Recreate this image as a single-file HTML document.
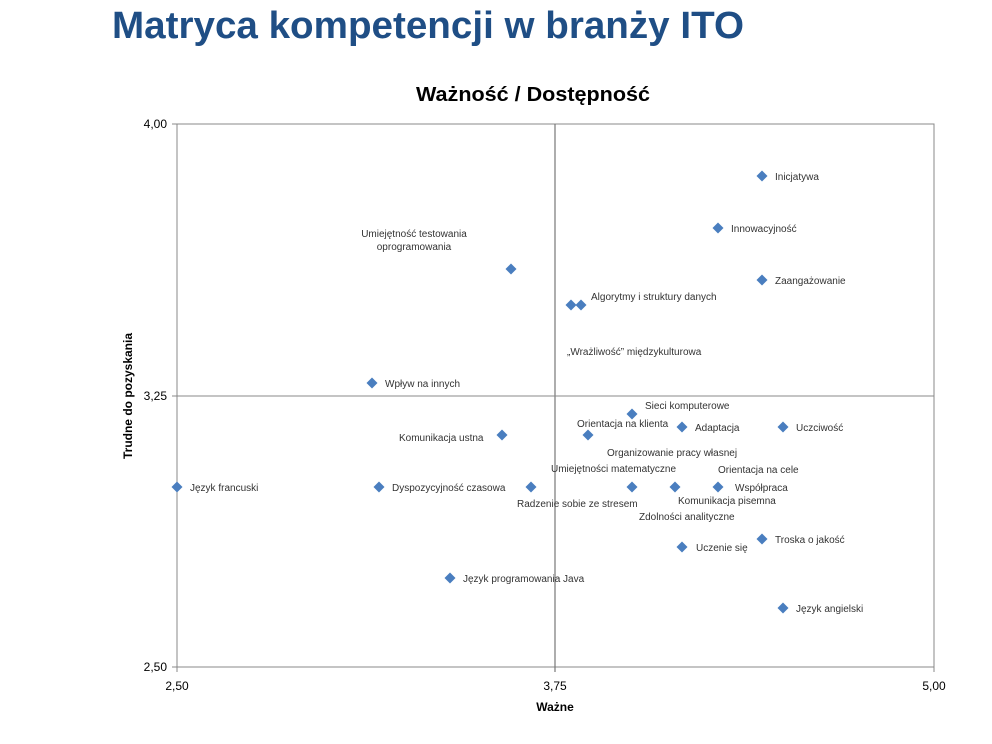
<!DOCTYPE html>
<html><head><meta charset="utf-8"><style>body{margin:0;background:#fff;}svg{display:block}</style></head><body>
<svg width="992" height="744" xmlns="http://www.w3.org/2000/svg" font-family="Liberation Sans, DejaVu Sans, sans-serif">
<text x="112" y="38" font-size="38" font-weight="bold" fill="#1f4e85" textLength="632" lengthAdjust="spacingAndGlyphs">Matryca kompetencji w branży ITO</text>
<text x="533" y="101" font-size="20" font-weight="bold" text-anchor="middle" fill="#000" textLength="234" lengthAdjust="spacingAndGlyphs">Ważność / Dostępność</text>
<rect x="177" y="124" width="757" height="543" fill="none" stroke="#888" stroke-width="1"/>
<line x1="555" y1="124" x2="555" y2="672" stroke="#777" stroke-width="1.2"/>
<line x1="172" y1="396" x2="934" y2="396" stroke="#888" stroke-width="1"/>
<line x1="172" y1="124" x2="177" y2="124" stroke="#888"/>
<line x1="172" y1="667" x2="177" y2="667" stroke="#888"/>
<line x1="177" y1="667" x2="177" y2="672" stroke="#888"/>
<line x1="934" y1="667" x2="934" y2="672" stroke="#888"/>
<g font-size="12" fill="#000">
<text x="167" y="128" text-anchor="end">4,00</text>
<text x="167" y="400" text-anchor="end">3,25</text>
<text x="167" y="671" text-anchor="end">2,50</text>
<text x="177" y="690" text-anchor="middle">2,50</text>
<text x="555" y="690" text-anchor="middle">3,75</text>
<text x="934" y="690" text-anchor="middle">5,00</text>
</g>
<text x="555" y="711" font-size="12" font-weight="bold" text-anchor="middle">Ważne</text>
<text transform="translate(132,396) rotate(-90)" font-size="12" font-weight="bold" text-anchor="middle">Trudne do pozyskania</text>
<g fill="#4a7ebf">
<path d="M0,-5.5L5.5,0L0,5.5L-5.5,0Z" transform="translate(762,176)"/>
<path d="M0,-5.5L5.5,0L0,5.5L-5.5,0Z" transform="translate(718,228)"/>
<path d="M0,-5.5L5.5,0L0,5.5L-5.5,0Z" transform="translate(762,280)"/>
<path d="M0,-5.5L5.5,0L0,5.5L-5.5,0Z" transform="translate(511,269)"/>
<path d="M0,-5.5L5.5,0L0,5.5L-5.5,0Z" transform="translate(571,305)"/>
<path d="M0,-5.5L5.5,0L0,5.5L-5.5,0Z" transform="translate(581,305)"/>
<path d="M0,-5.5L5.5,0L0,5.5L-5.5,0Z" transform="translate(372,383)"/>
<path d="M0,-5.5L5.5,0L0,5.5L-5.5,0Z" transform="translate(632,414)"/>
<path d="M0,-5.5L5.5,0L0,5.5L-5.5,0Z" transform="translate(588,435)"/>
<path d="M0,-5.5L5.5,0L0,5.5L-5.5,0Z" transform="translate(682,427)"/>
<path d="M0,-5.5L5.5,0L0,5.5L-5.5,0Z" transform="translate(783,427)"/>
<path d="M0,-5.5L5.5,0L0,5.5L-5.5,0Z" transform="translate(502,435)"/>
<path d="M0,-5.5L5.5,0L0,5.5L-5.5,0Z" transform="translate(177,487)"/>
<path d="M0,-5.5L5.5,0L0,5.5L-5.5,0Z" transform="translate(379,487)"/>
<path d="M0,-5.5L5.5,0L0,5.5L-5.5,0Z" transform="translate(531,487)"/>
<path d="M0,-5.5L5.5,0L0,5.5L-5.5,0Z" transform="translate(632,487)"/>
<path d="M0,-5.5L5.5,0L0,5.5L-5.5,0Z" transform="translate(675,487)"/>
<path d="M0,-5.5L5.5,0L0,5.5L-5.5,0Z" transform="translate(718,487)"/>
<path d="M0,-5.5L5.5,0L0,5.5L-5.5,0Z" transform="translate(762,539)"/>
<path d="M0,-5.5L5.5,0L0,5.5L-5.5,0Z" transform="translate(682,547)"/>
<path d="M0,-5.5L5.5,0L0,5.5L-5.5,0Z" transform="translate(450,578)"/>
<path d="M0,-5.5L5.5,0L0,5.5L-5.5,0Z" transform="translate(783,608)"/>
</g>
<g font-size="10" fill="#333">
<text x="775" y="180">Inicjatywa</text>
<text x="731" y="232">Innowacyjność</text>
<text x="775" y="284">Zaangażowanie</text>
<text x="414" y="237" text-anchor="middle">Umiejętność testowania</text>
<text x="414" y="250" text-anchor="middle">oprogramowania</text>
<text x="591" y="300">Algorytmy i struktury danych</text>
<text x="567" y="355">„Wrażliwość” międzykulturowa</text>
<text x="385" y="387">Wpływ na innych</text>
<text x="645" y="409">Sieci komputerowe</text>
<text x="577" y="427">Orientacja na klienta</text>
<text x="695" y="431">Adaptacja</text>
<text x="796" y="431">Uczciwość</text>
<text x="399" y="441">Komunikacja ustna</text>
<text x="607" y="456">Organizowanie pracy własnej</text>
<text x="551" y="472">Umiejętności matematyczne</text>
<text x="718" y="473">Orientacja na cele</text>
<text x="190" y="491">Język francuski</text>
<text x="392" y="491">Dyspozycyjność czasowa</text>
<text x="735" y="491">Współpraca</text>
<text x="678" y="504">Komunikacja pisemna</text>
<text x="517" y="507">Radzenie sobie ze stresem</text>
<text x="639" y="520">Zdolności analityczne</text>
<text x="775" y="543">Troska o jakość</text>
<text x="696" y="551">Uczenie się</text>
<text x="463" y="582">Język programowania Java</text>
<text x="796" y="612">Język angielski</text>
</g>
</svg>
</body></html>
